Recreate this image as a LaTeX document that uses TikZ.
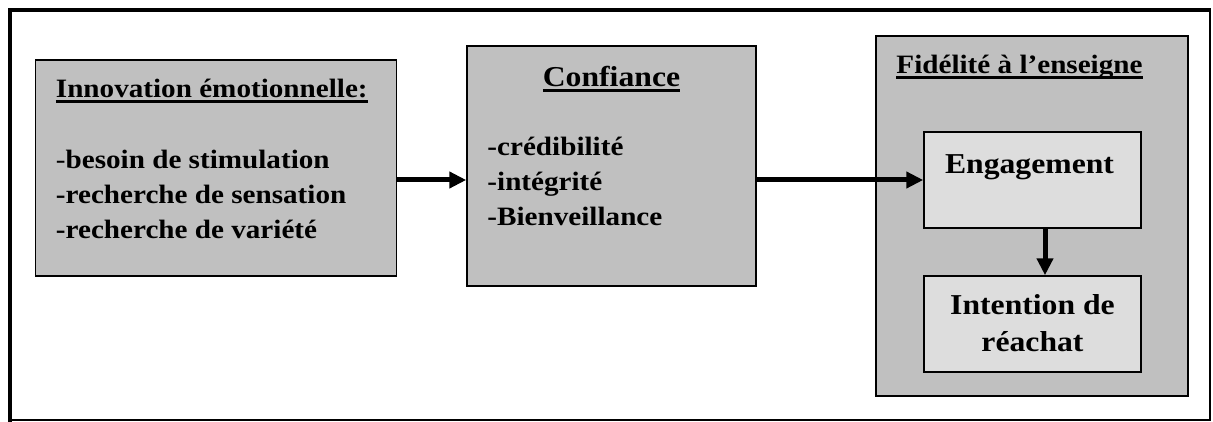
\documentclass[tikz,border=0pt]{standalone}
\usepackage{fontspec}
\setmainfont{Liberation Serif}[FakeStretch=1.1]
\usepackage{tikz}
\usetikzlibrary{positioning,arrows.meta}
\definecolor{boxgrey}{RGB}{192,192,192}
\definecolor{lightgrey}{RGB}{221,221,221}
\tikzset{
  box/.style  = {draw, line width=1.5pt, fill=boxgrey, inner sep=0pt},
  lbox/.style = {draw, line width=1.5pt, fill=lightgrey, inner sep=0pt, minimum width=217pt, minimum height=96pt},
  txt/.style  = {inner sep=0pt, align=left, font=\fontsize{26.5}{35}\selectfont\bfseries},
  big/.style  = {inner sep=0pt, align=center, font=\fontsize{28.8}{37}\selectfont\bfseries},
  flow/.style = {-{Triangle[length=17pt,width=16pt]}, line width=5pt},
}
\newcommand{\ulined}[1]{\setbox0\hbox{#1}\rlap{\rule[-5.5pt]{\wd0}{2.5pt}}\box0}

\begin{document}
\begin{tikzpicture}[x=1pt,y=1pt]
  \useasboundingbox (0,0) rectangle (1213,421);
  % outer frame
  \draw[line width=3.5pt, line cap=rect] (10,1.2) -- (10,411) -- (1209.5,411);
  \draw[line width=2pt, line cap=rect] (1209.5,411) -- (1209.5,1.2) -- (10,1.2);
  % boxes
  \node[box, minimum width=361pt, minimum height=216pt] (inno) at (216,253) {};
  \node[box, minimum width=289pt, minimum height=240pt] (conf) at (611.5,255) {};
  \node[box, minimum width=312pt, minimum height=360pt] (fid) at (1032,205) {};
  \node[lbox] (eng) at (1032.5,241) {};
  \node[lbox] (intent) at (1032.5,97) {};
  % texts (multi-line nodes sit on their last baseline)
  \node[txt, anchor=base west] (innotitle) at ([xshift=21pt,yshift=-38pt]inno.north west) {\ulined{Innovation émotionnelle:}};
  \node[txt, anchor=base west] (innolist) at ([xshift=21pt,yshift=-179pt]inno.north west)
    {{\mdseries -}besoin de stimulation\\-recherche de sensation\\-recherche de variété};
  \node[big, anchor=base] (conftitle) at ([yshift=-41pt]conf.north) {\ulined{Confiance}};
  \node[txt, anchor=base west] (conflist) at ([xshift=21pt,yshift=-180pt]conf.north west)
    {-crédibilité\\-intégrité\\-Bienveillance};
  \node[txt, anchor=base west] (fidtitle) at ([xshift=21pt,yshift=-38pt]fid.north west) {\ulined{Fidélité à l'enseigne}};
  \node[big, anchor=base] (engtxt) at ([xshift=-3pt,yshift=-42pt]eng.north) {Engagement};
  \node[big, anchor=base] (intenttxt) at ([yshift=-76pt]intent.north) {Intention de\\réachat};
  % arrows
  \draw[flow] (inno.east |- eng.west) -- (conf.west |- eng.west);
  \draw[flow] (conf.east |- eng.west) -- (eng.west);
  \draw[flow] ([xshift=12.5pt]eng.south) -- ([xshift=12.5pt]intent.north);
\end{tikzpicture}
\end{document}
